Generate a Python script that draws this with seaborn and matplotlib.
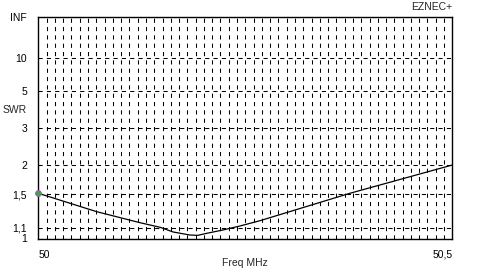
import numpy as np
import pandas as pd
import matplotlib
matplotlib.use("Agg")
import matplotlib.pyplot as plt
from matplotlib.ticker import MultipleLocator
import seaborn as sns

# ---- data ----
freq_mhz = [50.000, 50.0705, 50.1228, 50.147, 50.1627, 50.183, 50.1926,
            50.2034, 50.223, 50.2436, 50.2677, 50.3764, 50.500]
swr = [1.514, 1.276, 1.154, 1.107, 1.061, 1.032, 1.029,
       1.048, 1.080, 1.120, 1.175, 1.514, 1.995]
marker_freq = [50.000]
marker_swr = [1.514]
swr_ticks = [1, 1.1, 1.5, 2, 3, 5, 10, np.inf]
swr_tick_labels = ["1", "1,1", "1,5", "2", "3", "5", "10", "INF"]
x_ticks = [50.0, 50.5]
x_tick_labels = ["50", "50,5"]


def rho(s):
    s = np.asarray(s, dtype=float)
    return np.where(np.isinf(s), 1.0, (s - 1.0) / (s + 1.0))


df = pd.DataFrame({"freq": freq_mhz, "rho": rho(swr)})
dm = pd.DataFrame({"freq": marker_freq, "rho": rho(marker_swr)})

sns.set_style("white")
plt.rcParams["font.family"] = ["Liberation Sans", "DejaVu Sans"]

fig = plt.figure(figsize=(4.78, 2.72), dpi=100)
W, H = 478, 272
L, R, T, B = 38.3, 452.3, 17.3, 238.5
ax = fig.add_axes([L / W, 1 - B / H, (R - L) / W, (B - T) / H])

sns.lineplot(data=df, x="freq", y="rho", ax=ax, color="black",
             linewidth=0.9, zorder=5)
sns.scatterplot(data=dm, x="freq", y="rho", ax=ax, color="#3fa34d",
                edgecolor="#b050c0", s=18, linewidth=0.6, zorder=6,
                clip_on=False)

ax.set_xlim(50.0, 50.5)
ax.set_ylim(0, 1)

ax.set_yticks(rho(swr_ticks))
ax.set_yticklabels(swr_tick_labels)
ax.set_xticks(x_ticks)
ax.set_xticklabels(x_tick_labels)
ax.xaxis.set_minor_locator(MultipleLocator(0.01))

ax.tick_params(axis="both", which="both", length=0, labelsize=7.5,
               colors="black")
ax.tick_params(axis="y", pad=8)
ax.tick_params(axis="x", pad=8)
xl = ax.get_xticklabels()
xl[0].set_horizontalalignment("left")
xl[1].set_horizontalalignment("right")

dash = (0, (4.0, 4.0))
ax.grid(which="minor", axis="x", color="black", linestyle=dash, linewidth=0.75)
ax.grid(which="major", axis="y", color="black", linestyle=dash, linewidth=0.75)
ax.grid(which="major", axis="x", visible=False)

for sp in ax.spines.values():
    sp.set_visible(True)
    sp.set_color("black")
    sp.set_linewidth(1.0)

ax.set_xlabel("Freq MHz", fontsize=7.5)
ax.xaxis.set_label_coords(0.5, -(253 - B + 5.5) / (B - T))
ax.set_ylabel("")

fig.text(27 / W, 1 - 110 / H, "SWR", ha="right", va="center", fontsize=7.5)
fig.text(452 / W, 1 - 7.5 / H, "EZNEC+", ha="right", va="center", fontsize=7.5)

fig.savefig("out.png", dpi=100, facecolor="white")
